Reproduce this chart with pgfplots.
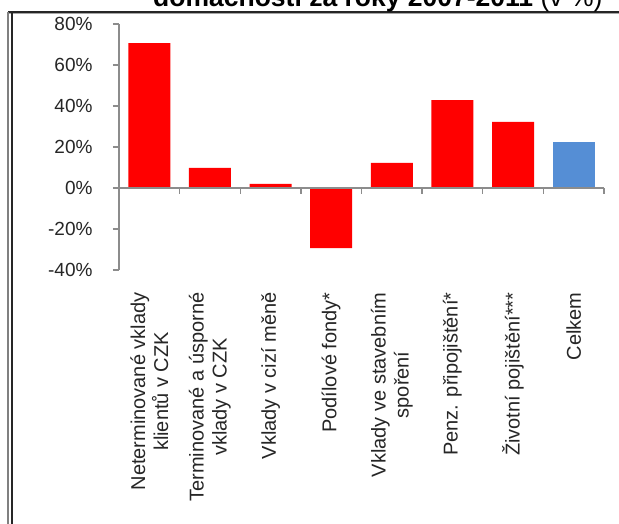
\documentclass[border=0pt]{standalone}
\usepackage{pgfplots}
\pgfplotsset{compat=1.18}
\usepackage{fontspec}
\setmainfont{Liberation Sans}
\definecolor{barred}{RGB}{255,0,0}
\definecolor{barblue}{RGB}{85,142,213}
\definecolor{axgray}{RGB}{140,140,140}
\begin{document}
\begin{tikzpicture}[x=1pt,y=1pt]
\useasboundingbox (0,0) rectangle (619,523);
\clip (0,0) rectangle (619,523);
\fill[white] (0,0) rectangle (619,523);
% frame
\draw[line width=1.3pt,black!85] (8,511) -- (625,511);
\draw[line width=1pt,gray!70] (9,509.5) -- (625,509.5);
\draw[line width=1.2pt,gray] (8,-5) -- (8,511);
\draw[line width=1.2pt,black!85] (12,-5) -- (12,510);
% title (cut at top)
\node[anchor=base west,inner sep=0pt,font=\fontsize{26.5}{30}\selectfont] at (153,516)
  {\textbf{domácnosti za roky 2007-2011} (v \%)};
\begin{axis}[
  at={(119pt,253pt)}, anchor=south west,
  scale only axis, width=485pt, height=246pt,
  xmin=-0.5, xmax=7.5, ymin=-40, ymax=80,
  axis x line*=bottom, axis y line*=left,
  x axis line style={draw=none},
  y axis line style={axgray,line width=1.3pt},
  xtick={0,1,2,3,4,5,6,7},
  xtick style={draw=none},
  xticklabels={{Neterminované vklady\\klientů v CZK},{Terminované  a úsporné\\vklady v CZK},{Vklady v cizí měně},{Podílové fondy*},{Vklady ve stavebním\\spoření},{Penz. připojištění*},{Životní pojištění***},{Celkem}},
  xticklabel style={rotate=90,anchor=east,align=center,font=\fontsize{20}{23}\selectfont,xshift=-13pt,text=black!85},
  ytick={-40,-20,0,20,40,60,80},
  yticklabel={\pgfmathprintnumber{\tick}\%},
  yticklabel style={font=\fontsize{19}{22}\selectfont,xshift=-17pt,text=black!85},
  /pgf/number format/assume math mode=true,
  ytick style={axgray,line width=1.3pt},
  tick align=outside, major tick length=6pt,
  ybar, bar width=42pt, bar shift=0pt,
  clip=false,
]
\addplot[fill=barred,draw=none] coordinates {(0,70.7) (1,9.8) (2,2.0) (3,-29.3) (4,12.2) (5,42.9) (6,32.2)};
\addplot[fill=barblue,draw=none] coordinates {(7,22.4)};
\draw[axgray,line width=1.3pt] (axis cs:-0.5,0) -- (axis cs:7.5,0);
\pgfplotsinvokeforeach{0.5,1.5,2.5,3.5,4.5,5.5,6.5,7.5}{
  \draw[axgray,line width=1.3pt] (axis cs:#1,0) -- ([yshift=-6pt]axis cs:#1,0);
}
\end{axis}
\end{tikzpicture}
\end{document}
